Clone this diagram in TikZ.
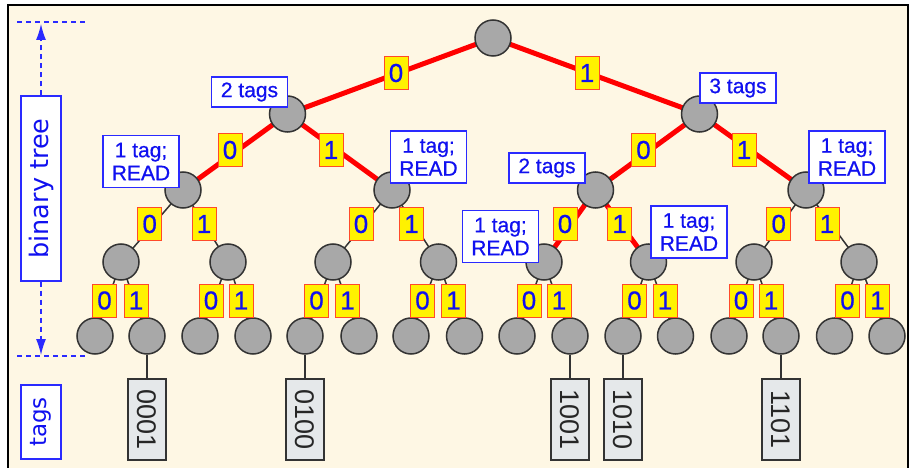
\documentclass[tikz,border=0pt]{standalone}
\usepackage{fontspec}
\setmainfont{Liberation Sans}
\newfontfamily\lblfont[FakeBold=0.6]{Liberation Sans}
\newfontfamily\axisfont{DejaVu Sans}
\usetikzlibrary{arrows.meta}
\definecolor{cream}{HTML}{FEF7E4}
\definecolor{nodegray}{HTML}{A8A8A8}
\definecolor{lblblue}{HTML}{1010F0}
\definecolor{boxblue}{HTML}{2A2AFF}
\definecolor{lblred}{HTML}{FF4A2A}
\definecolor{taggray}{HTML}{E5E8EA}
\definecolor{edgegray}{HTML}{333333}
\pgfdeclarelayer{back}
\pgfdeclarelayer{bg}
\pgfsetlayers{back,bg,main}
\begin{document}
\begin{tikzpicture}[x=1pt,y=-1pt,
  vert/.style={circle, draw=edgegray, line width=1.5pt, fill=nodegray, minimum size=36pt, inner sep=0pt},
  rededge/.style={draw=red, line width=5pt},
  thinedge/.style={draw=edgegray, line width=1.5pt},
  bit/.style={draw=lblred, line width=1pt, fill=yellow, text=lblblue, font=\lblfont\fontsize{26}{26}\selectfont, minimum width=24pt, minimum height=33pt, inner sep=0pt},
  info/.style={draw=boxblue, line width=1.3pt, fill=white, text=lblblue, font=\lblfont\fontsize{21}{23}\selectfont, align=center, inner sep=0pt, minimum width=76pt, minimum height=30pt},
  info2/.style={info, minimum height=52pt},
  tagbox/.style={draw=edgegray, line width=1.3pt, fill=taggray, text=black!85, font=\fontsize{27}{27}\selectfont, rotate=-90, minimum width=81pt, minimum height=38pt, inner sep=0pt},
  axisbox/.style={draw=boxblue, line width=1.3pt, fill=white, text=lblblue, rotate=90, minimum height=40pt, inner sep=0pt},
  axisline/.style={draw=boxblue, line width=1.3pt, dash pattern=on 5pt off 4pt},
]
\useasboundingbox (0,0) rectangle (914,468);
\begin{pgfonlayer}{back}
  \fill[white] (0,0) rectangle (914,468);
  \draw[fill=cream, line width=1.5pt] (8,5) rectangle (908,480);
\end{pgfonlayer}

% tree nodes
\node[vert] (r) at (493,38) {};
\node[vert] (n0) at (287.5,114) {};
\node[vert] (n1) at (699.5,114) {};
\node[vert] (n00) at (183,190) {};
\node[vert] (n01) at (392,190) {};
\node[vert] (n10) at (595.5,190) {};
\node[vert] (n11) at (806,190) {};
\foreach \nm/\x in {000/121,001/228,010/333,011/438.5,100/544,101/648.5,110/754,111/859}
  \node[vert] (n\nm) at (\x,262) {};
\foreach \nm/\x in {0000/95,0001/147,0010/200,0011/253,0100/305,0101/359,0110/411,0111/464.5,1000/517,1001/570,1010/623,1011/675.5,1100/729,1101/781,1110/834.5,1111/887}
  \node[vert] (n\nm) at (\x,336) {};

% edges
\begin{pgfonlayer}{bg}
  \foreach \a/\b in {r/n0,r/n1,n0/n00,n0/n01,n1/n10,n1/n11,n10/n100,n10/n101}
    \draw[rededge] (\a.center) -- (\b.center);
  \foreach \a/\b in {n00/n000,n00/n001,n01/n010,n01/n011,n11/n110,n11/n111}
    \draw[thinedge] (\a.center) -- (\b.center);
  \foreach \p in {000,001,010,011,100,101,110,111}{
    \draw[thinedge] (n\p.center) -- (n\p0.center);
    \draw[thinedge] (n\p.center) -- (n\p1.center);
  }
\end{pgfonlayer}

% edge labels
\node[bit] (e0) at (396,73) {0};
\node[bit] (e1) at (587,73) {1};
\node[bit] (e00) at (230,150) {0};
\node[bit] (e01) at (331,150) {1};
\node[bit] (e10) at (643.5,150) {0};
\node[bit] (e11) at (744,150) {1};
\foreach \nm/\x/\t in {000/149.7/0,001/204/1,010/361/0,011/411.5/1,100/565/0,101/619.7/1,110/778.7/0,111/827/1}
  \node[bit] (e\nm) at (\x,224) {\t};
\foreach \nm/\x/\t in {0000/104.5/0,0001/136/1,0010/211/0,0011/241/1,0100/316.5/0,0101/347.5/1,0110/422.5/0,0111/453.5/1,1000/529/0,1001/559/1,1010/634.5/0,1011/665/1,1100/741/0,1101/771/1,1110/847.5/0,1111/877.5/1}
  \node[bit] (e\nm) at (\x,300.5) {\t};

% info boxes
\node[info] (i0) at (249.5,92) {2 tags};
\node[info2] (i00) at (141,161.5) {1 tag;\\READ};
\node[info2] (i01) at (428.5,157) {1 tag;\\READ};
\node[info] (i1) at (738,88) {3 tags};
\node[info] (i10) at (547,168) {2 tags};
\node[info2] (i11) at (847,157) {1 tag;\\READ};
\node[info2] (i100) at (500.5,236.5) {1 tag;\\READ};
\node[info2] (i101) at (689,232) {1 tag;\\READ};

% tags
\foreach \nm/\x in {0001/147,0100/305,1001/570,1010/623,1101/781}{
  \node[tagbox] (t\nm) at (\x,419.5) {\nm};
  \draw[thinedge] (n\nm) -- (t\nm);
}

% axis
\node[axisbox, minimum width=185pt, font=\axisfont\fontsize{25.5}{25.5}\selectfont] (bt) at (41,188.5) {binary tree};
\node[axisbox, minimum width=74pt, font=\axisfont\fontsize{23}{23}\selectfont] (tg) at (41,422) {tags};
\coordinate (atop) at (41,24);
\coordinate (abot) at (41,355);
\coordinate (htl) at (17,22);
\coordinate (htr) at (87,22);
\coordinate (hbl) at (17,356);
\coordinate (hbr) at (87,356);
\draw[axisline] (htl) -- (htr);
\draw[axisline] (hbl) -- (hbr);
\draw[axisline, -{Latex[length=16pt,width=10pt]}] (bt) -- (atop);
\draw[axisline, -{Latex[length=16pt,width=10pt]}] (bt) -- (abot);
\end{tikzpicture}
\end{document}
